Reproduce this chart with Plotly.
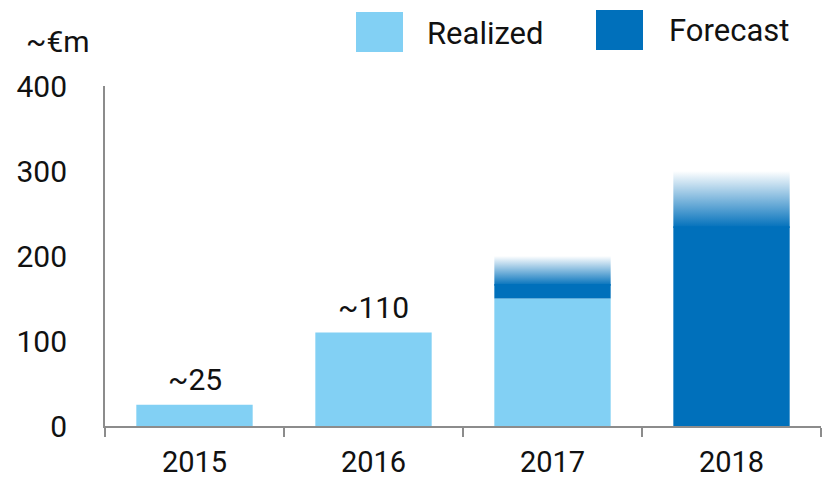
import plotly.graph_objects as go

# ---- data ----
years = ["2015", "2016", "2017", "2018"]
realized = [25, 110, 150, 0]
forecast_total = [0, 0, 200, 300]
forecast_fade_start = [0, 0, 165, 233]   # where the forecast bar starts fading out
value_labels = ["~25", "~110", "", ""]
y_ticks = [0, 100, 200, 300, 400]

LIGHT = "#82D0F4"
DARK = "#0070BB"
DARK_T = "rgba(0,112,187,0)"
AXIS = "#8C8C8C"
TXT = "#111111"
FONT = "Roboto"
FS = 30
FS_X = 29
FS_LEG = 31
BAR_W = 0.65

W, H = 825, 479
ML, MR, MT, MB = 105, 4, 86, 53
PW, PH = W - ML - MR, H - MT - MB

def px(x):
    return (x - ML) / PW

def py(y):
    return (H - MB - y) / PH

x_pos = list(range(len(years)))

fig = go.Figure()
fig.add_bar(x=x_pos, y=realized, width=BAR_W, marker=dict(color=LIGHT, line=dict(width=0)),
            name="Realized", showlegend=False)
# solid part of forecast, run a little under the faded top so no seam shows
solid = [max(fs - r, 0) + 2 if t > 0 else 0 for fs, r, t in zip(forecast_fade_start, realized, forecast_total)]
fig.add_bar(x=x_pos, y=solid, base=realized, width=BAR_W, marker=dict(color=DARK, line=dict(width=0)),
            name="Forecast", showlegend=False)

for i, (fs, t) in enumerate(zip(forecast_fade_start, forecast_total)):
    if t > 0:
        x0, x1 = i - BAR_W / 2, i + BAR_W / 2
        fig.add_scatter(x=[x0, x1, x1, x0, x0], y=[fs, fs, t, t, fs], mode="none", fill="toself",
                        fillgradient=dict(type="vertical", colorscale=[[0, DARK], [1, DARK_T]]),
                        showlegend=False, hoverinfo="skip")

for i, lab in enumerate(value_labels):
    if lab:
        fig.add_annotation(x=i, y=realized[i], text=lab, showarrow=False, yanchor="bottom", yshift=6,
                           font=dict(family=FONT, size=FS, color=TXT))

# unit label
fig.add_annotation(xref="paper", yref="paper", x=px(24), y=py(41), text="~€m", showarrow=False,
                   xanchor="left", yanchor="middle", font=dict(family=FONT, size=FS, color=TXT))

# legend (manual)
for (x0, x1, y0, y1, col, lab, tx, ty) in [
    (356, 403, 12, 52, LIGHT, "Realized", 425, 33),
    (596, 643, 10, 50, DARK, "Forecast", 667, 31),
]:
    fig.add_shape(type="rect", xref="paper", yref="paper", x0=px(x0), x1=px(x1), y0=py(y1), y1=py(y0),
                  fillcolor=col, line=dict(width=0))
    fig.add_annotation(xref="paper", yref="paper", x=px(tx), y=py(ty), text=lab, showarrow=False,
                       xanchor="left", yanchor="middle", font=dict(family=FONT, size=FS_LEG, color=TXT))

fig.update_layout(
    width=W, height=H, autosize=False,
    margin=dict(l=ML, r=MR, t=MT, b=MB),
    plot_bgcolor="white", paper_bgcolor="white",
    barmode="overlay", showlegend=False,
    font=dict(family=FONT, size=FS, color=TXT),
)
fig.update_xaxes(range=[-0.5, len(years) - 0.5], tickmode="array", tickvals=x_pos, ticktext=years,
                 ticks="", showline=True, linecolor=AXIS, linewidth=2, showgrid=False, zeroline=False,
                 minor=dict(tickmode="linear", tick0=-0.5, dtick=1, ticks="outside", ticklen=9,
                            tickcolor=AXIS, tickwidth=2, showgrid=False),
                 tickfont=dict(family=FONT, size=FS_X, color=TXT), ticklabelstandoff=9,
                 automargin=False, fixedrange=True)
fig.update_yaxes(range=[0, 400], tickmode="array", tickvals=y_ticks, ticks="", showline=True,
                 linecolor=AXIS, linewidth=2, showgrid=False, zeroline=False,
                 tickfont=dict(family=FONT, size=FS, color=TXT), ticklabelstandoff=30,
                 automargin=False, fixedrange=True)

fig.write_html("out.html", config={"displayModeBar": False},
               post_script="document.body.style.margin='0';document.body.style.overflow='hidden';")
